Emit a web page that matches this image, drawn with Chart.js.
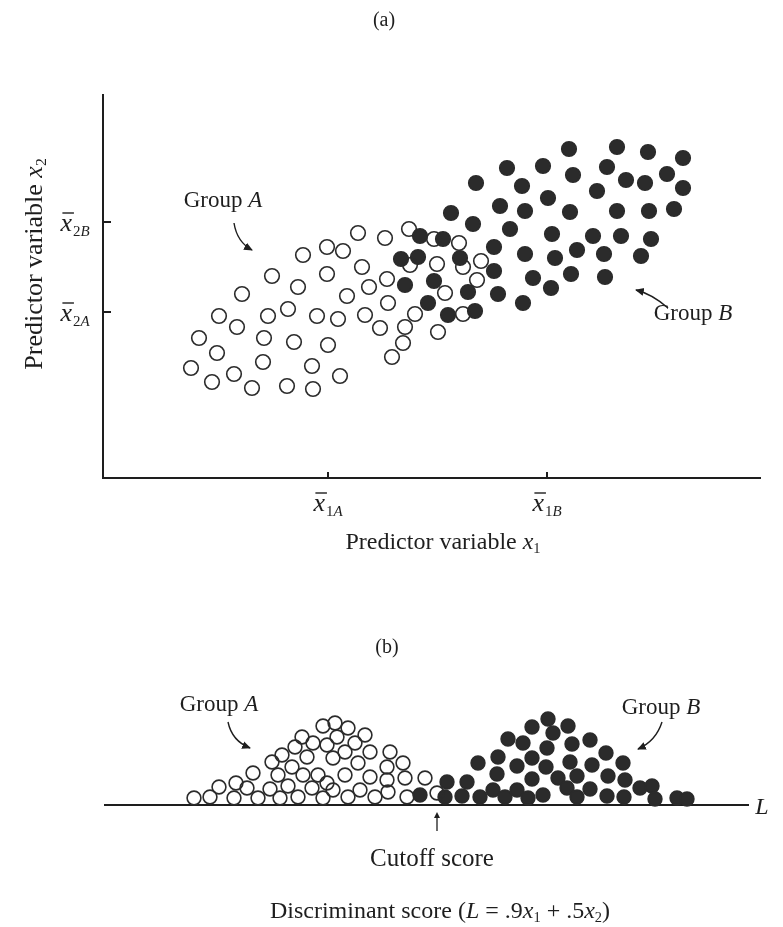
<!DOCTYPE html>
<html>
<head>
<meta charset="utf-8">
<script src="https://cdn.jsdelivr.net/npm/chart.js@4.4.1/dist/chart.umd.min.js"></script>
<style>
body{margin:0;background:#fff;}
#pagina{position:relative;width:783px;height:927px;overflow:hidden;font-family:"Liberation Serif","DejaVu Serif",serif;color:#1e1e1e;}
canvas{position:absolute;left:0;}
.t{position:absolute;white-space:nowrap;transform:translate(-50%,-50%);font-size:22px;line-height:1;}
.t sub{font-size:0.6em;vertical-align:-0.25em;line-height:0;}
svg{position:absolute;left:0;top:0;}
</style>
</head>
<body>
<div id="pagina">
<canvas id="graficoA" width="783" height="560" style="top:0"></canvas>
<canvas id="graficoB" width="783" height="327" style="top:600px"></canvas>

<svg width="783" height="927">
  <defs>
    <marker id="punta" viewBox="0 0 10 10" refX="8" refY="5" markerWidth="7" markerHeight="7" orient="auto">
      <path d="M0,1 L9,5 L0,9 z" fill="#1e1e1e"/>
    </marker>
  </defs>
  <g fill="none" stroke="#1e1e1e" stroke-width="1.4" marker-end="url(#punta)">
    <path d="M234,223 Q237,242 252,250"/>
    <path d="M668,308 Q652,294 636,290"/>
    <path d="M228,722 Q232,741 250,748"/>
    <path d="M662,722 Q656,741 638,749"/>
  </g>
</svg>

<div class="t" style="left:384px;top:19px;font-size:20px">(a)</div>
<div class="t" style="left:34px;top:264px;font-size:26px;transform:translate(-50%,-50%) rotate(-90deg)">Predictor variable <i>x</i><sub>2</sub></div>
<div class="t" style="left:443px;top:541px;font-size:24px">Predictor variable <i>x</i><sub>1</sub></div>
<div class="t" style="left:223px;top:199px;font-size:23px">Group <i>A</i></div>
<div class="t" style="left:693px;top:312px;font-size:23px">Group <i>B</i></div>

<div class="t" style="left:387px;top:646px;font-size:20px">(b)</div>
<div class="t" style="left:219px;top:703px;font-size:23px">Group <i>A</i></div>
<div class="t" style="left:661px;top:706px;font-size:23px">Group <i>B</i></div>
<div class="t" style="left:762px;top:806px;font-size:24px"><i>L</i></div>
<div class="t" style="left:432px;top:857px;font-size:25px">Cutoff score</div>
<div class="t" style="left:440px;top:910px;font-size:24px">Discriminant score (<i>L</i> = .9<i>x</i><sub>1</sub> + .5<i>x</i><sub>2</sub>)</div>
</div>

<script>
// (a) nube de puntos de los dos grupos (x1, x2)
let grupoA_x1 = [20.0, 22.4, 24.0, 16.9, 22.4, 19.5, 13.9, 24.4, 11.6, 16.5, 18.5, 21.4, 23.5, 13.4, 9.6, 16.1, 19.1, 22.5, 11.4, 16.0, 20.9, 8.8, 23.7, 10.9, 13.1, 14.9, 18.4, 21.0,
                 25.5, 28.2, 30.6, 33.1, 35.6, 25.9, 30.7, 33.4, 36.0, 37.8, 28.4, 26.6, 37.4, 34.2, 28.5, 26.2, 31.2, 36.0, 30.2, 27.7, 33.5, 30.0, 28.9];
let grupoA_x2 = [22.3, 23.1, 22.7, 20.2, 20.4, 19.1, 18.4, 18.2, 16.2, 16.2, 16.9, 16.2, 15.9, 15.1, 14.0, 14.0, 13.6, 13.3, 12.5, 11.6, 11.2, 11.0, 10.2, 9.6, 10.4, 9.0, 9.2, 8.9,
                 24.5, 24.0, 24.9, 23.9, 23.5, 21.1, 21.3, 21.4, 21.1, 21.7, 19.9, 19.1, 19.8, 18.5, 17.5, 16.3, 16.4, 16.4, 15.1, 15.0, 14.6, 13.5, 12.1];

let grupoB_x1 = [46.6, 51.4, 54.5, 58.0, 40.4, 44.0, 50.4, 47.0, 56.4, 37.3, 41.9, 52.3, 54.2, 58.0, 49.4, 44.5, 39.7, 42.2, 46.7, 51.4, 54.6, 57.1, 34.8, 37.0, 40.7, 44.9, 49.0,
                 51.8, 54.8, 31.7, 34.0, 39.1, 42.2, 45.2, 47.4, 50.1, 53.8, 29.8, 31.5, 35.7, 39.1, 43.0, 46.8, 50.2, 30.2, 33.1, 36.5, 39.5, 44.8, 42.0, 32.5, 34.5, 37.2];
let grupoB_x2 = [32.9, 33.1, 32.6, 32.0, 31.0, 31.2, 31.1, 30.3, 30.4, 29.5, 29.2, 29.8, 29.5, 29.0, 28.7, 28.0, 27.2, 26.7, 26.6, 26.7, 26.7, 26.9, 26.5, 25.4, 24.9, 24.4, 24.2,
                 24.2, 23.9, 24.2, 23.9, 23.1, 22.4, 22.0, 22.8, 22.4, 22.2, 21.9, 22.1, 22.0, 20.7, 20.0, 20.4, 20.1, 19.3, 19.7, 18.6, 18.4, 19.0, 17.5, 17.5, 16.3, 16.7];

// medias de cada grupo (marcas de los ejes)
let mediasX1 = [{valor: 22.5, num: '1', letra: 'A'}, {valor: 44.4, num: '1', letra: 'B'}];
let mediasX2 = [{valor: 25.6, num: '2', letra: 'B'}, {valor: 16.6, num: '2', letra: 'A'}];

// (b) puntajes discriminantes apilados (L, altura de la pila)
let puntajeA = [8.9, 10.5, 11.4, 12.9, 13.1, 14.2, 14.8, 15.3, 16.5, 16.7, 17.3, 17.7, 17.5, 18.7, 18.3, 19.0, 19.7, 19.8, 20.2, 19.3, 20.7, 20.8, 21.8, 21.3, 21.8, 23.0,
                24.3, 23.2, 26.0, 22.2, 24.0, 25.0, 26.5, 28.5, 22.8, 25.3, 28.2, 29.8, 24.0, 26.5, 28.2, 30.0, 32.0, 22.8, 25.5, 28.3, 24.3, 27.0, 30.2, 33.2, 22.2];
let alturaA  = [0.7, 0.8, 1.8, 0.7, 2.2, 1.7, 3.2, 0.7, 1.6, 4.3, 3.0, 5.0, 0.7, 3.8, 1.9, 5.8, 6.8, 3.0, 4.8, 0.8, 1.7, 6.2, 7.9, 3.0, 0.7, 8.2,
                7.7, 6.8, 7.0, 6.0, 5.3, 6.2, 5.3, 5.3, 4.7, 4.2, 3.8, 4.2, 3.0, 2.8, 2.5, 2.7, 2.7, 1.5, 1.5, 1.3, 0.8, 0.8, 0.8, 1.2, 2.2];

let puntajeB = [31.5, 34.0, 34.2, 35.7, 36.2, 37.3, 37.5, 38.8, 39.2, 39.3, 40.0, 40.3, 41.2, 41.2, 41.8, 42.3, 42.7, 42.7, 42.7, 43.8, 44.1, 44.2, 44.3, 44.8, 45.3, 46.2,
                46.3, 46.5, 46.7, 47.2, 47.2, 48.5, 48.7, 48.5, 50.1, 50.3, 50.2, 51.8, 52.0, 51.9, 53.5, 54.7, 55.0, 57.2, 58.2];
let alturaB  = [1.0, 0.8, 2.3, 0.9, 2.3, 4.2, 0.8, 1.5, 3.1, 4.8, 0.8, 6.6, 3.9, 1.5, 6.2, 0.7, 7.8, 4.7, 2.6, 1.0, 3.8, 5.7, 8.6, 7.2, 2.7, 1.7,
                7.9, 4.3, 6.1, 2.9, 0.8, 6.5, 4.0, 1.6, 5.2, 2.9, 0.9, 4.2, 2.5, 0.8, 1.7, 1.9, 0.6, 0.7, 0.6];

let puntoCorte = 33.2;

const tinta = '#1e1e1e';
const relleno = '#2b2b2b';

function pares(xs, ys){
    return xs.map((x, i) => ({x: x, y: ys[i]}));
}

function serie(datos, lleno, radio){
    return {
        data: datos,
        pointStyle: 'circle',
        pointRadius: radio,
        borderWidth: 1.6,
        borderColor: relleno,
        backgroundColor: lleno ? relleno : 'rgba(255,255,255,0)',
        clip: false
    };
}

// x con barra y subíndice, dibujada en el canvas
function etiquetaMedia(c, cx, base, num, letra){
    c.font = 'italic 26px "Liberation Serif"';
    let wx = c.measureText('x').width;
    c.font = '15px "Liberation Serif"';
    let wn = c.measureText(num).width;
    c.font = 'italic 15px "Liberation Serif"';
    let wl = c.measureText(letra).width;
    let x0 = cx - (wx + 1 + wn + wl) / 2;

    c.font = 'italic 26px "Liberation Serif"';
    c.fillText('x', x0, base);
    c.lineWidth = 1.4;
    c.beginPath();
    c.moveTo(x0 + 2, base - 18);
    c.lineTo(x0 + wx + 2, base - 18);
    c.stroke();
    c.font = '15px "Liberation Serif"';
    c.fillText(num, x0 + wx + 1, base + 5);
    c.font = 'italic 15px "Liberation Serif"';
    c.fillText(letra, x0 + wx + 1 + wn, base + 5);
}

const marcasMedias = {
    id: 'marcasMedias',
    afterDraw(chart){
        const c = chart.ctx;
        const area = chart.chartArea;
        const ex = chart.scales.x, ey = chart.scales.y;
        c.save();
        c.strokeStyle = tinta;
        c.fillStyle = tinta;
        c.textBaseline = 'alphabetic';
        mediasX1.forEach(m => {
            let px = ex.getPixelForValue(m.valor);
            c.lineWidth = 2;
            c.beginPath(); c.moveTo(px, area.bottom); c.lineTo(px, area.bottom - 6); c.stroke();
            etiquetaMedia(c, px, area.bottom + 33, m.num, m.letra);
        });
        mediasX2.forEach(m => {
            let py = ey.getPixelForValue(m.valor);
            c.lineWidth = 2;
            c.beginPath(); c.moveTo(area.left, py); c.lineTo(area.left + 8, py); c.stroke();
            etiquetaMedia(c, area.left - 28, py + 9, m.num, m.letra);
        });
        c.restore();
    }
};

const flechaCorte = {
    id: 'flechaCorte',
    afterDraw(chart){
        const c = chart.ctx;
        const px = chart.scales.x.getPixelForValue(puntoCorte);
        const y0 = chart.chartArea.bottom;
        c.save();
        c.strokeStyle = tinta;
        c.fillStyle = tinta;
        c.lineWidth = 1.3;
        c.beginPath(); c.moveTo(px, y0 + 26); c.lineTo(px, y0 + 9); c.stroke();
        c.beginPath(); c.moveTo(px, y0 + 7); c.lineTo(px - 3, y0 + 13); c.lineTo(px + 3, y0 + 13); c.closePath(); c.fill();
        c.restore();
    }
};

function ejeSimple(min, max, visible){
    return {
        type: 'linear',
        min: min,
        max: max,
        display: visible,
        grid: {display: false, drawTicks: false},
        ticks: {display: false},
        border: {display: true, color: tinta, width: 2}
    };
}

const opcionesBase = {
    responsive: false,
    animation: false,
    events: [],
    plugins: {legend: {display: false}, tooltip: {enabled: false}}
};

new Chart(document.getElementById('graficoA'), {
    type: 'scatter',
    data: {
        datasets: [
            serie(pares(grupoA_x1, grupoA_x2), false, 7.3),
            serie(pares(grupoB_x1, grupoB_x2), true, 7.3)
        ]
    },
    options: Object.assign({}, opcionesBase, {
        layout: {padding: {left: 103, right: 23, top: 95, bottom: 82}},
        scales: {
            x: ejeSimple(0, 65.7, true),
            y: ejeSimple(0, 38.3, true)
        }
    }),
    plugins: [marcasMedias]
});

new Chart(document.getElementById('graficoB'), {
    type: 'scatter',
    data: {
        datasets: [
            serie(pares(puntajeA, alturaA), false, 6.9),
            serie(pares(puntajeB, alturaB), true, 6.9)
        ]
    },
    options: Object.assign({}, opcionesBase, {
        layout: {padding: {left: 105, right: 35, top: 100, bottom: 122}},
        scales: {
            x: ejeSimple(0, 64.3, true),
            y: ejeSimple(0, 10.5, false)
        }
    }),
    plugins: [flechaCorte]
});
</script>
</body>
</html>
